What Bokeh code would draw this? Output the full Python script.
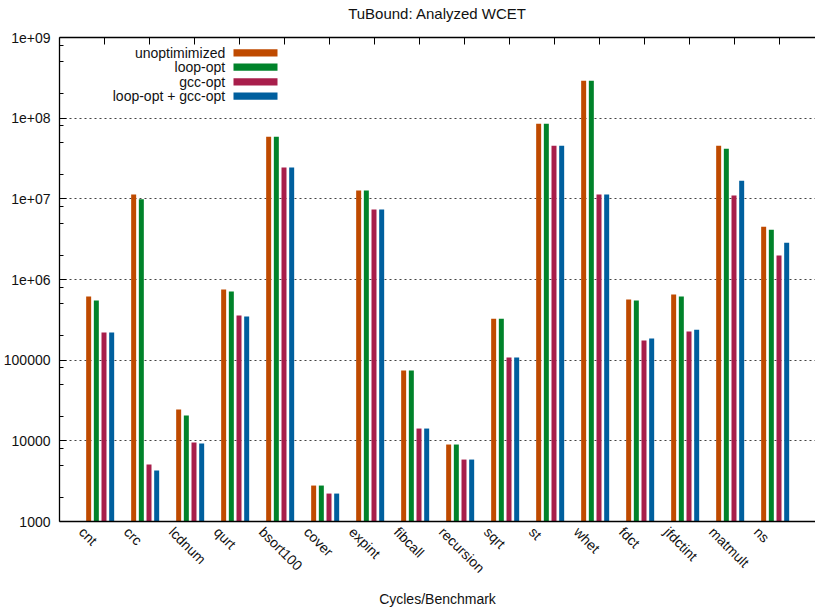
import math
from bokeh.plotting import figure
from bokeh.models import (ColumnDataSource, Range1d, FixedTicker, LinearAxis,
                          Label, BoxAnnotation)
from bokeh.transform import dodge
from bokeh.embed import file_html
from bokeh.resources import INLINE

# ---------------- data ----------------
categories = ["cnt", "crc", "lcdnum", "qurt", "bsort100", "cover", "expint",
              "fibcall", "recursion", "sqrt", "st", "whet", "fdct",
              "jfdctint", "matmult", "ns"]
unoptimimized = [614e3, 11.3e6, 24.4e3, 750e3, 59e6, 2.79e3, 12.65e6, 74.3e3,
                 9.0e3, 327e3, 85.5e6, 292e6, 564e3, 650e3, 45.6e6, 4.52e6]
loop_opt = [548e3, 9.86e6, 20.6e3, 708e3, 59e6, 2.79e3, 12.65e6, 74.3e3,
            9.0e3, 327e3, 85.5e6, 292e6, 548e3, 614e3, 41.9e6, 4.15e6]
gcc_opt = [220e3, 5.08e3, 9.53e3, 357e3, 24.4e6, 2.22e3, 7.35e6, 14.2e3,
           5.86e3, 108e3, 45.6e6, 11.3e6, 175e3, 226e3, 11.0e6, 1.98e6]
loop_gcc_opt = [220e3, 4.29e3, 9.27e3, 347e3, 24.4e6, 2.22e3, 7.35e6, 14.2e3,
                5.86e3, 108e3, 45.6e6, 11.3e6, 185e3, 239e3, 16.8e6, 2.86e6]
series_names = ["unoptimimized", "loop-opt", "gcc-opt", "loop-opt + gcc-opt"]
y_ticks = [1e3, 1e4, 1e5, 1e6, 1e7, 1e8, 1e9]
y_tick_labels = ["1000", "10000", "100000", "1e+06", "1e+07", "1e+08", "1e+09"]
title_text = "TuBound: Analyzed WCET"
x_label_text = "Cycles/Benchmark"

# ---------------- style ----------------
colors = ["#BF4A00", "#00832A", "#A81E4B", "#005F9E"]
FONT = "Liberation Sans"
TXT = "#111111"

W, H = 815, 609
ML, MB, MT = 59, 88, 37
x_start = -0.989
x_end = x_start + (W - ML) / 45.0
y_start, y_end = 1e3, 1e9
label_shift = 0.5   # category labels start left of the tick

idx = list(range(len(categories)))
src = ColumnDataSource(dict(idx=idx, cat=categories,
                            s0=unoptimimized, s1=loop_opt, s2=gcc_opt, s3=loop_gcc_opt,
                            base=[y_start] * len(categories)))

p = figure(width=W, height=H, y_axis_type="log",
           x_range=Range1d(x_start, x_end), y_range=Range1d(y_start, y_end),
           output_backend="svg", toolbar_location=None, title=None,
           min_border_left=ML, min_border_right=0, min_border_bottom=MB,
           min_border_top=MT)
p.outline_line_color = None
p.background_fill_color = "white"
p.border_fill_color = "white"

offsets = [-0.341, -0.1705, 0.0, 0.1705]
for j, key in enumerate(["s0", "s1", "s2", "s3"]):
    p.vbar(x=dodge("idx", offsets[j], range=p.x_range), top=key, bottom="base",
           width=0.111, source=src, fill_color=colors[j], line_color=None)

# y axis
minor = [m * d for d in y_ticks[:-1] for m in (2, 5, 8)]
yt = FixedTicker(ticks=y_ticks, minor_ticks=minor)
ya = p.yaxis[0]
ya.ticker = yt
ya.major_label_overrides = {int(v): s for v, s in zip(y_ticks, y_tick_labels)}
ya.major_tick_in = 7
ya.major_tick_out = 0
ya.minor_tick_in = 4
ya.minor_tick_out = 0
ya.major_label_standoff = 9
ya.major_label_text_font = FONT
ya.major_label_text_font_size = "14px"
ya.major_label_text_color = TXT
ya.axis_line_color = "black"
ya.axis_line_width = 1.3
ya.major_tick_line_color = "black"
ya.minor_tick_line_color = "black"

# x axis (bottom): line + rotated category labels
label_pos = [i - label_shift for i in idx]
xa = p.xaxis[0]
xa.ticker = FixedTicker(ticks=label_pos, minor_ticks=[])
xa.major_label_overrides = {pos: c for pos, c in zip(label_pos, categories)}
xa.major_label_orientation = -math.pi / 4
xa.major_tick_in = 0
xa.major_tick_out = 0
xa.minor_tick_in = 0
xa.minor_tick_out = 0
xa.major_label_standoff = 8
xa.major_label_text_font = FONT
xa.major_label_text_font_size = "14px"
xa.major_label_text_color = TXT
xa.axis_line_color = "black"
xa.axis_line_width = 1.3
xa.axis_label = x_label_text
xa.axis_label_text_font = FONT
xa.axis_label_text_font_size = "14px"
xa.axis_label_text_font_style = "normal"
xa.axis_label_text_color = TXT
xa.axis_label_standoff = 6

# top border with inward ticks; carries the chart title
ta = LinearAxis(ticker=FixedTicker(ticks=idx, minor_ticks=[]))
ta.major_tick_in = 7
ta.major_tick_out = 0
ta.minor_tick_in = 0
ta.minor_tick_out = 0
ta.major_label_text_color = None
ta.major_label_text_font_size = "1px"
ta.major_label_standoff = 0
ta.axis_line_color = "black"
ta.axis_line_width = 1.3
ta.axis_label = title_text
ta.axis_label_text_font = FONT
ta.axis_label_text_font_size = "15px"
ta.axis_label_text_font_style = "normal"
ta.axis_label_text_color = TXT
ta.axis_label_standoff = 16
p.add_layout(ta, "above")

# grid
p.xgrid.grid_line_color = None
p.ygrid.ticker = yt
p.ygrid.grid_line_color = "#444444"
p.ygrid.grid_line_dash = "2 3"
p.ygrid.grid_line_width = 1

# manual legend: text on the left, swatch on the right (frame-relative px)
row_y = [468.7, 454.3, 439.7, 425.3]
for j, name in enumerate(series_names):
    p.add_layout(Label(x=165.7, y=row_y[j], x_units="screen", y_units="screen",
                       text=name, text_align="right", text_baseline="middle",
                       text_font=FONT, text_font_size="14px", text_color=TXT))
    p.add_layout(BoxAnnotation(left=174, right=218, bottom=row_y[j] - 3.6,
                               top=row_y[j] + 3.6, left_units="screen",
                               right_units="screen", bottom_units="screen",
                               top_units="screen", fill_color=colors[j],
                               fill_alpha=1.0, line_color=None))

open("out.html", "w").write(file_html(p, INLINE))
